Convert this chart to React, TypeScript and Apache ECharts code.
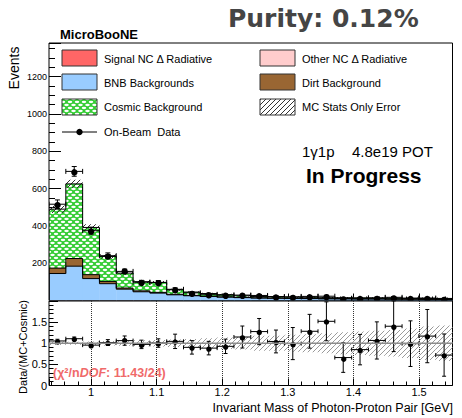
import React, { useEffect, useRef } from "react";
import * as echarts from "echarts";

// ---------- axis ranges ----------
const X_MIN = 0.936;
const X_MAX = 1.551;
const N_BINS = 24;
const Y_MAIN_MAX = 1380;
const Y_RATIO_MAX = 2;

// ---------- MC stack (events per bin) ----------
const signalNC = [0.35, 0.45, 0.35, 0.3, 0.25, 0.2, 0.15, 0.12, 0.1, 0.1, 0.08, 0.07, 0.06, 0.05, 0.05, 0.04, 0.04, 0.03, 0.03, 0.03, 0.02, 0.02, 0.02, 0.02];
const otherNC = [1.2, 1.5, 1.1, 0.8, 0.6, 0.5, 0.4, 0.3, 0.3, 0.2, 0.2, 0.2, 0.1, 0.1, 0.1, 0.1, 0.1, 0.1, 0.1, 0.1, 0.1, 0.1, 0.1, 0.1];
const bnbBkg = [143, 182, 116, 89, 60, 46, 39, 30, 25, 21, 18, 15, 13, 12, 11, 10, 9, 9, 8, 8, 7, 7, 6, 6];
const dirtBkg = [29, 41, 21, 12, 6, 5, 4, 3, 2, 2, 1, 1, 1, 1, 1, 1, 0.5, 0.5, 0.5, 0.5, 0.5, 0.5, 0.5, 0.5];
const cosmicBkg = [316, 400, 253, 134, 80, 49, 53, 24, 18, 14, 12, 9, 7, 7, 7, 6, 5.5, 5.5, 5.5, 4.5, 4.5, 4.5, 4.5, 4.5];
const mcStatErr = [20, 22, 17, 12, 9, 7, 7.5, 5, 4.5, 4.4, 4.3, 3.8, 3.8, 3.6, 3.8, 3.7, 3.6, 3.9, 3.9, 3.9, 3.8, 4.2, 4.4, 4.7];

// ---------- on-beam data ----------
const beamData = [516, 692, 374, 240, 156, 98, 97, 60, 41, 33, 29, 29, 27, 21, 19, 22, 23, 10, 12, 14, 17, 12, 13, 8];
const beamDataErr = [23, 26, 19, 15, 12, 10, 10, 8, 6, 6, 5, 5, 5, 5, 4, 5, 5, 3, 3, 4, 4, 3, 4, 3];
const ratioErr = [0.04, 0.04, 0.05, 0.07, 0.11, 0.1, 0.1, 0.17, 0.16, 0.16, 0.17, 0.26, 0.31, 0.27, 0.38, 0.4, 0.46, 0.35, 0.36, 0.44, 0.6, 0.54, 0.63, 0.5];

const FONT = "'Liberation Sans', Arial, Helvetica, sans-serif";

function makeCosmicPattern() {
  const c = document.createElement("canvas");
  c.width = 7;
  c.height = 6;
  const ctx = c.getContext("2d")!;
  ctx.fillStyle = "#33cc33";
  ctx.fillRect(0, 0, 7, 6);
  ctx.fillStyle = "#ffffff";
  const ell = (x: number, y: number) => {
    ctx.beginPath();
    ctx.ellipse(x, y, 2.3, 1.15, 0, 0, Math.PI * 2);
    ctx.fill();
  };
  ell(0, 0);
  ell(7, 0);
  ell(0, 6);
  ell(7, 6);
  ell(3.5, 3);
  return { image: c, repeat: "repeat" };
}

function makeHatch(color: string, size: number, lw: number, bg?: string) {
  const c = document.createElement("canvas");
  c.width = size;
  c.height = size;
  const ctx = c.getContext("2d")!;
  if (bg) {
    ctx.fillStyle = bg;
    ctx.fillRect(0, 0, size, size);
  }
  ctx.strokeStyle = color;
  ctx.lineWidth = lw;
  ctx.beginPath();
  ctx.moveTo(0, size);
  ctx.lineTo(size, 0);
  ctx.moveTo(-1, 1);
  ctx.lineTo(1, -1);
  ctx.moveTo(size - 1, size + 1);
  ctx.lineTo(size + 1, size - 1);
  ctx.stroke();
  return { image: c, repeat: "repeat" };
}

export default function App() {
  const ref = useRef<HTMLDivElement>(null);

  useEffect(() => {
    if (!ref.current) return;
    const chart = echarts.init(ref.current, undefined, { renderer: "svg" });

    const cosmicPat = makeCosmicPattern();
    const darkHatch = makeHatch("#333333", 5, 1);
    const grayHatch = makeHatch("#9a9a9a", 5, 1);
    const legendHatch = makeHatch("#333333", 5, 1, "#ffffff");

    const binW = (X_MAX - X_MIN) / N_BINS;
    const edges = Array.from({ length: N_BINS + 1 }, (_, i) => X_MIN + i * binW);

    const layers = [
      { vals: signalNC, fill: "#ff6666" as any, outline: false },
      { vals: otherNC, fill: "#ffcccc" as any, outline: false },
      { vals: bnbBkg, fill: "#99ccff" as any, outline: true },
      { vals: dirtBkg, fill: "#996633" as any, outline: true },
      { vals: cosmicBkg, fill: cosmicPat as any, outline: true },
    ];

    const base = new Array(N_BINS).fill(0);
    const fillSeries: any[] = [];
    const outlineSeries: any[] = [];
    layers.forEach((L, k) => {
      const lo = base.slice();
      const hi = base.map((b, i) => b + L.vals[i]);
      for (let i = 0; i < N_BINS; i++) base[i] = hi[i];
      fillSeries.push({
        type: "custom",
        name: "layer" + k,
        xAxisIndex: 0,
        yAxisIndex: 0,
        clip: true,
        data: hi.map((h, i) => [edges[i], edges[i + 1], lo[i], h]),
        renderItem: (params: any, api: any) => {
          const a = api.coord([api.value(0), api.value(3)]);
          const b = api.coord([api.value(1), api.value(2)]);
          return {
            type: "rect",
            shape: { x: a[0], y: a[1], width: b[0] - a[0] + 0.4, height: b[1] - a[1] },
            style: { fill: L.fill },
          };
        },
      });
      if (L.outline) {
        outlineSeries.push({
          type: "custom",
          name: "outline" + k,
          xAxisIndex: 0,
          yAxisIndex: 0,
          clip: true,
          data: hi.map((h, i) => [edges[i], edges[i + 1], h, i === 0 ? 0 : hi[i - 1]]),
          renderItem: (params: any, api: any) => {
            const a = api.coord([api.value(0), api.value(2)]);
            const b = api.coord([api.value(1), api.value(2)]);
            const p = api.coord([api.value(0), api.value(3)]);
            const st = { stroke: "#000", lineWidth: 1 };
            return {
              type: "group",
              children: [
                { type: "line", shape: { x1: a[0], y1: a[1], x2: b[0], y2: b[1] }, style: st },
                { type: "line", shape: { x1: a[0], y1: p[1], x2: a[0], y2: a[1] }, style: st },
              ],
            };
          },
        });
      }
    });
    const total = base.slice();

    const pointRender = (r: number, cap: number) => (params: any, api: any) => {
      const xc = api.value(0);
      const y = api.value(1);
      const e = api.value(2);
      const c = api.coord([xc, y]);
      const l = api.coord([xc - binW / 2, y]);
      const rr = api.coord([xc + binW / 2, y]);
      const t = api.coord([xc, y + e]);
      const b = api.coord([xc, y - e]);
      const st = { stroke: "#000", lineWidth: 1 };
      return {
        type: "group",
        children: [
          { type: "line", shape: { x1: l[0], y1: c[1], x2: rr[0], y2: c[1] }, style: st },
          { type: "line", shape: { x1: l[0], y1: c[1] - cap, x2: l[0], y2: c[1] + cap }, style: st },
          { type: "line", shape: { x1: rr[0], y1: c[1] - cap, x2: rr[0], y2: c[1] + cap }, style: st },
          { type: "line", shape: { x1: c[0], y1: t[1], x2: c[0], y2: b[1] }, style: st },
          { type: "line", shape: { x1: c[0] - cap, y1: t[1], x2: c[0] + cap, y2: t[1] }, style: st },
          { type: "line", shape: { x1: c[0] - cap, y1: b[1], x2: c[0] + cap, y2: b[1] }, style: st },
          { type: "circle", shape: { cx: c[0], cy: c[1], r }, style: { fill: "#000" } },
        ],
      };
    };

    const bandRender = (fill: any) => (params: any, api: any) => {
      const a = api.coord([api.value(0), api.value(3)]);
      const b = api.coord([api.value(1), api.value(2)]);
      return {
        type: "rect",
        shape: { x: a[0], y: a[1], width: b[0] - a[0], height: b[1] - a[1] },
        style: { fill },
      };
    };

    const centers = edges.slice(0, N_BINS).map((e, i) => (e + edges[i + 1]) / 2);

    const mainBand = {
      type: "custom",
      xAxisIndex: 0,
      yAxisIndex: 0,
      clip: true,
      data: total.map((t, i) => [edges[i], edges[i + 1], t - mcStatErr[i], t + mcStatErr[i]]),
      renderItem: bandRender(darkHatch),
    };
    const mainPoints = {
      type: "custom",
      xAxisIndex: 0,
      yAxisIndex: 0,
      clip: true,
      data: beamData.map((d, i) => [centers[i], d, beamDataErr[i]]),
      renderItem: pointRender(3.2, 2.5),
    };
    const ratioBand = {
      type: "custom",
      xAxisIndex: 1,
      yAxisIndex: 1,
      clip: true,
      data: total.map((t, i) => [edges[i], edges[i + 1], 1 - mcStatErr[i] / t, 1 + mcStatErr[i] / t]),
      renderItem: bandRender(grayHatch),
    };
    const ratioLine = {
      type: "line",
      xAxisIndex: 1,
      yAxisIndex: 1,
      symbol: "none",
      data: [
        [X_MIN, 1],
        [X_MAX, 1],
      ],
      lineStyle: { color: "#8c8c8c", width: 1.5 },
      silent: true,
    };
    const ratioPoints = {
      type: "custom",
      xAxisIndex: 1,
      yAxisIndex: 1,
      clip: true,
      data: beamData.map((d, i) => [centers[i], d / total[i], ratioErr[i]]),
      renderItem: pointRender(2.7, 2),
    };

    const txt = (x: number, y: number, text: string, size: number, opts: any = {}) => ({
      type: "text",
      x,
      y,
      rotation: opts.rotation || 0,
      style: {
        text,
        fill: opts.color || "#000",
        fontSize: size,
        fontFamily: opts.family || FONT,
        fontWeight: opts.weight || "normal",
        textAlign: opts.align || "left",
        textVerticalAlign: "middle",
        rich: opts.rich,
      },
    });

    const legendRect = (x: number, y: number, fill: any) => ({
      type: "rect",
      shape: { x, y, width: 35, height: 16 },
      style: { fill, stroke: "#333", lineWidth: 1 },
    });

    const graphic: any[] = [
      txt(228, 18, "Purity: 0.12%", 25, { weight: "bold", color: "#454545", family: "'DejaVu Sans', sans-serif" }),
      txt(60, 34, "MicroBooNE", 13, { weight: "bold" }),
      legendRect(62, 50, "#ff6666"),
      legendRect(62, 74, "#99ccff"),
      legendRect(62, 99, cosmicPat),
      legendRect(260, 50, "#ffcccc"),
      legendRect(260, 74, "#996633"),
      legendRect(260, 99, legendHatch),
      txt(104, 58.5, "Signal NC Δ Radiative", 11),
      txt(104, 82.5, "BNB Backgrounds", 11),
      txt(104, 107, "Cosmic Background", 11),
      txt(302, 58.5, "Other NC Δ Radiative", 11),
      txt(302, 82.5, "Dirt Background", 11),
      txt(302, 107, "MC Stats Only Error", 11),
      { type: "line", shape: { x1: 62, y1: 132, x2: 97, y2: 132 }, style: { stroke: "#000", lineWidth: 1 } },
      { type: "circle", shape: { cx: 79.5, cy: 132, r: 3.2 }, style: { fill: "#000" } },
      txt(104, 132, "On-Beam  Data", 11),
      txt(302, 151, "1γ1p", 15),
      txt(352, 151, "4.8e19 POT", 15),
      txt(306, 175, "In Progress", 21, { weight: "bold" }),
      txt(53, 373, "{n|(χ²/n}{i|DOF}{n|: 11.43/24)}", 12.5, {
        color: "#f06a6a",
        weight: "bold",
        rich: {
          n: { fontSize: 12.5, fontWeight: "bold", fill: "#f06a6a", fontFamily: FONT },
          i: { fontSize: 12.5, fontWeight: "bold", fontStyle: "italic", fill: "#f06a6a", fontFamily: FONT },
        },
      }),
      txt(14, 68, "Events", 14, { rotation: Math.PI / 2, align: "center" }),
      txt(23, 347, "Data/(MC+Cosmic)", 11, { rotation: Math.PI / 2, align: "center" }),
      txt(453, 408, "Invariant Mass of Photon-Proton Pair [GeV]", 12.5, { align: "right" }),
    ];

    const tickStyle = { color: "#000", width: 1 };
    const plain = (v: number) => String(v);

    chart.setOption({
      animation: false,
      textStyle: { fontFamily: FONT },
      grid: [
        { left: 49, top: 43, width: 403.5, height: 257.5, show: true, borderColor: "#000", borderWidth: 1, backgroundColor: "transparent", containLabel: false },
        { left: 49, top: 301, width: 403.5, height: 84.5, show: true, borderColor: "#000", borderWidth: 1, backgroundColor: "transparent", containLabel: false },
      ],
      xAxis: [
        {
          type: "value",
          gridIndex: 0,
          min: X_MIN,
          max: X_MAX,
          axisLine: { show: false },
          axisLabel: { show: false },
          axisTick: { show: true, inside: true, length: 7, lineStyle: tickStyle },
          minorTick: { show: true, splitNumber: 5, length: 4, lineStyle: tickStyle },
          splitLine: { show: false },
        },
        {
          type: "value",
          gridIndex: 1,
          min: X_MIN,
          max: X_MAX,
          axisLine: { show: false },
          axisLabel: { show: true, fontSize: 11, color: "#000", margin: 1, showMinLabel: false, showMaxLabel: false, fontFamily: FONT, formatter: plain },
          axisTick: { show: true, inside: true, length: 7, lineStyle: tickStyle },
          minorTick: { show: true, splitNumber: 5, length: 4, lineStyle: tickStyle },
          splitLine: { show: true, showMinLine: false, showMaxLine: false, lineStyle: { type: "dotted", color: "#333", width: 1 } },
        },
      ],
      yAxis: [
        {
          type: "value",
          gridIndex: 0,
          min: 0,
          max: Y_MAIN_MAX,
          interval: 200,
          axisLine: { show: false },
          axisLabel: { show: true, fontSize: 9, color: "#000", margin: 2, showMinLabel: false, showMaxLabel: false, fontFamily: FONT, formatter: plain },
          axisTick: { show: true, inside: true, length: 12, lineStyle: tickStyle },
          minorTick: { show: true, splitNumber: 4, length: 6, lineStyle: tickStyle },
          splitLine: { show: false },
        },
        {
          type: "value",
          gridIndex: 1,
          min: 0,
          max: Y_RATIO_MAX,
          interval: 0.5,
          axisLine: { show: false },
          axisLabel: { show: true, fontSize: 11, color: "#000", margin: 2, showMaxLabel: false, fontFamily: FONT, formatter: plain },
          axisTick: { show: true, inside: true, length: 9, lineStyle: tickStyle },
          minorTick: { show: true, splitNumber: 5, length: 4.5, lineStyle: tickStyle },
          splitLine: { show: false },
        },
      ],
      series: [...fillSeries, mainBand, ...outlineSeries, mainPoints, ratioBand, ratioLine, ratioPoints],
      graphic,
    });

    return () => chart.dispose();
  }, []);

  return (
    <div
      ref={ref}
      style={{ position: "fixed", left: 0, top: 0, width: 462, height: 418, background: "#fff" }}
    />
  );
}
